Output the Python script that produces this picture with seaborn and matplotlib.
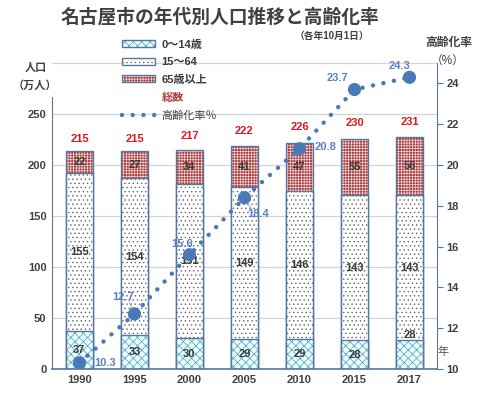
import matplotlib
matplotlib.use("Agg")
import matplotlib.pyplot as plt
from matplotlib.patches import Patch
from matplotlib.lines import Line2D
import numpy as np
import pandas as pd
import seaborn as sns

# data
years = ["1990", "1995", "2000", "2005", "2010", "2015", "2017"]
young = [37, 33, 30, 29, 29, 28, 28]          # 0～14歳
working = [155, 154, 151, 149, 146, 143, 143]  # 15～64
elderly = [22, 27, 34, 41, 47, 55, 56]         # 65歳以上
totals = [215, 215, 217, 222, 226, 230, 231]   # 総数
aging = [10.3, 12.7, 15.6, 18.4, 20.8, 23.7, 24.3]  # 高齢化率%

sns.set_style("white")
plt.rcParams["font.family"] = ["Liberation Sans", "Noto Sans CJK JP", "DejaVu Sans"]
plt.rcParams["hatch.linewidth"] = 0.5

df = pd.DataFrame({"year": years, "young": young, "working": working,
                   "elderly": elderly, "total": totals, "aging": aging})
df["mid"] = df["young"] + df["working"]
df["top"] = df["mid"] + df["elderly"]

edge = "#56779e"
dark = "#3a3a3a"
blue = "#4a78b8"
label_blue = "#5a82c0"

# style of each layer: face, hatch, hatch colour
st_young = ("#f2fbfc", "xxxx", "#35a6c4")
st_work = ("white", "....", "#666666")
st_old = ("#a83c3c", "++++++", "#f0d8d8")

fig = plt.figure(figsize=(4.81, 3.94), dpi=100)
ax = fig.add_axes([0.108, 0.0635, 0.8005, 0.7765])


def layer(col, face, hatch, hcol):
    sns.barplot(data=df, x="year", y=col, color=face, width=0.49, ax=ax,
                hatch=hatch, edgecolor=hcol, linewidth=0, saturation=1)
    sns.barplot(data=df, x="year", y=col, color=edge, width=0.49, ax=ax,
                fill=False, linewidth=1.0, saturation=1)


layer("top", *st_old)
layer("mid", *st_work)
layer("young", *st_young)

ax.set_xlim(-0.5, 6.5)
ax.set_ylim(0, 300)
ax.set_yticks([0, 50, 100, 150, 200, 250])
ax.yaxis.grid(True, color="#d4d4d4", linewidth=0.9)
ax.axhline(300, color="#d4d4d4", linewidth=0.9, zorder=0, clip_on=False)
ax.set_axisbelow(True)
ax.set_xlabel("")
ax.set_ylabel("")
ax.tick_params(axis="both", length=0, labelsize=8, labelcolor="#404040", pad=4)
for t in ax.get_xticklabels() + ax.get_yticklabels():
    t.set_fontweight("bold")
for s in ["top", "right"]:
    ax.spines[s].set_visible(False)
ax.spines["left"].set_color(edge)
ax.spines["left"].set_bounds(0, 267)
ax.spines["bottom"].set_color(edge)
ax.spines["bottom"].set_linewidth(1.2)

# segment values
for i in range(len(years)):
    yv = young[i] / 2 if i < 6 else 33
    ax.text(i, yv, str(young[i]), ha="center", va="center", fontsize=8,
            fontweight="bold", color=dark)
    ax.text(i, young[i] + working[i] / 2, str(working[i]), ha="center",
            va="center", fontsize=8, fontweight="bold", color=dark)
    ax.text(i, df["mid"][i] + elderly[i] / 2, str(elderly[i]), ha="center",
            va="center", fontsize=8, fontweight="bold", color=dark)
    ax.text(i, totals[i] + 11, str(totals[i]), ha="center", va="center",
            fontsize=8, fontweight="bold", color="#e3141c")

# aging rate
ax2 = ax.twinx()
ax2.set_ylim(10, 25)
ax2.set_yticks(np.arange(10, 25, 2))
xs = np.arange(len(years))
sns.lineplot(x=xs, y=aging, ax=ax2, color=blue, linewidth=3.2,
             linestyle=(0, (0.01, 2.4)), dash_capstyle="round")
sns.scatterplot(x=xs, y=aging, ax=ax2, color=blue, s=90, edgecolor="none", zorder=5)
ax2.set_xlim(-0.5, 6.5)
ax2.tick_params(axis="y", length=4, color=edge, labelsize=8, labelcolor="#404040", pad=3)
for t in ax2.get_yticklabels():
    t.set_fontweight("bold")
for s in ["top", "left", "bottom"]:
    ax2.spines[s].set_visible(False)
ax2.spines["right"].set_color(edge)

label_pos = [(0.47, 10.3), (0.80, 13.54), (1.87, 16.14), (3.24, 17.62),
             (4.47, 20.86), (4.69, 24.25), (5.82, 24.84)]
for i, (lx, ly) in enumerate(label_pos):
    ax2.text(lx, ly, f"{aging[i]:.1f}", ha="center", va="center", fontsize=8,
             fontweight="bold", color=label_blue)
for i in [1, 3]:
    lx, ly = label_pos[i]
    ax2.plot([lx + (0.1 if i == 1 else -0.12), i], [ly - (0.25 if i == 1 else -0.25), aging[i]],
             color="#9a9a9a", linewidth=0.6, zorder=4)

# legend
def leg_patch(face, hatch, hcol):
    return (Patch(facecolor=face, hatch=hatch, edgecolor=hcol, linewidth=0),
            Patch(facecolor="none", edgecolor=edge, linewidth=1))


h_tot = Patch(facecolor="none", edgecolor="none")
h_line = Line2D([], [], color=blue, linewidth=3.2, linestyle=(0, (0.01, 2.4)),
                dash_capstyle="round")
leg = fig.legend([leg_patch(*st_young), leg_patch(*st_work), leg_patch(*st_old), h_tot, h_line],
                 ["0～14歳", "15～64", "65歳以上", "総数", "高齢化率％"],
                 loc="upper left", bbox_to_anchor=(0.253, 0.9), frameon=False,
                 fontsize=8, handlelength=3.0, handleheight=0.6,
                 handletextpad=0.6, labelspacing=0.68, borderpad=0, borderaxespad=0)
for i, t in enumerate(leg.get_texts()):
    t.set_color(dark)
    if i < 3:
        t.set_fontweight("bold")
leg.get_texts()[3].set_color("#b03a3a")
leg.get_texts()[3].set_fontweight("bold")

# titles and axis notes
fig.text(0.458, 0.955, "名古屋市の年代別人口推移と高齢化率", ha="center", va="center",
         fontsize=13.5, fontweight="bold", color="#404040")
fig.text(0.69, 0.908, "（各年10月1日）", ha="center", va="center", fontsize=7,
         fontweight="bold", color="#404040")
fig.text(0.075, 0.827, "人口", ha="center", va="center", fontsize=8,
         fontweight="bold", color="#404040")
fig.text(0.073, 0.784, "（万人）", ha="center", va="center", fontsize=8,
         fontweight="bold", color="#404040")
fig.text(0.933, 0.891, "高齢化率", ha="center", va="center", fontsize=8.5,
         fontweight="bold", color="#404040")
fig.text(0.931, 0.845, "（%）", ha="center", va="center", fontsize=8.5,
         color="#404040")
fig.text(0.921, 0.107, "年", ha="center", va="center", fontsize=8,
         color="#555555")

fig.savefig("out.png", dpi=100)
